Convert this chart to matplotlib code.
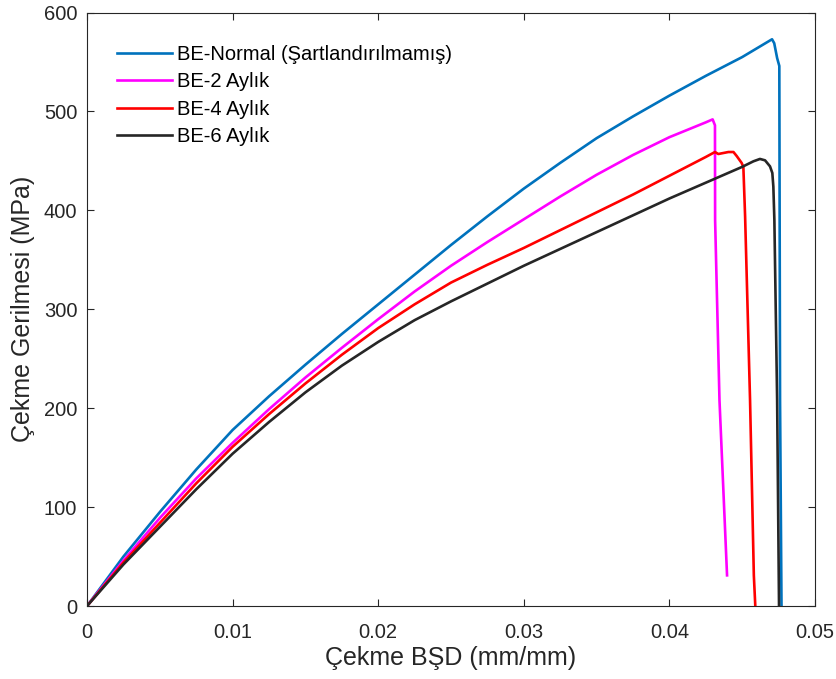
import numpy as np
import matplotlib
matplotlib.use("Agg")
import matplotlib.pyplot as plt

plt.rcParams['font.family'] = ['Liberation Sans', 'DejaVu Sans']

# strain (mm/mm) / stress (MPa)
normal_x = [0, 0.0025, 0.005, 0.0075, 0.01, 0.0125, 0.015, 0.0175, 0.02, 0.0225,
            0.025, 0.0275, 0.03, 0.0325, 0.035, 0.0375, 0.04, 0.0425, 0.045,
            0.04705, 0.0472, 0.0474, 0.04755, 0.0476, 0.0477]
normal_y = [0, 50, 95, 138, 178, 212, 244, 275, 305, 335,
            365, 394, 422, 448, 473, 495, 516, 536, 555,
            573, 569, 554, 546, 208, 0]

ay2_x = [0, 0.0025, 0.005, 0.0075, 0.01, 0.0125, 0.015, 0.0175, 0.02, 0.0225,
         0.025, 0.0275, 0.03, 0.0325, 0.035, 0.0375, 0.04, 0.0415, 0.0425,
         0.04297, 0.04313, 0.04314, 0.04344, 0.04396]
ay2_y = [0, 46, 89, 129, 165, 199, 231, 261, 290, 318,
         344, 368, 391, 414, 436, 456, 474, 483, 489,
         492, 486, 390, 208, 31]

ay4_x = [0, 0.0025, 0.005, 0.0075, 0.01, 0.0125, 0.015, 0.0175, 0.02, 0.0225,
         0.025, 0.0275, 0.03, 0.0325, 0.035, 0.0375, 0.04, 0.0425,
         0.04313, 0.04336, 0.04405, 0.0444, 0.04462, 0.04496, 0.04508,
         0.0452, 0.04554, 0.0458, 0.0459]
ay4_y = [0, 44, 84, 124, 161, 194, 225, 254, 281, 305,
         327, 345, 362, 380, 398, 416, 435, 454,
         459, 457, 459, 459, 455, 448, 444,
         394, 208, 31, 0]

ay6_x = [0, 0.0025, 0.005, 0.0075, 0.01, 0.0125, 0.015, 0.0175, 0.02, 0.0225,
         0.025, 0.0275, 0.03, 0.0325, 0.035, 0.0375, 0.04, 0.0425, 0.045,
         0.04577, 0.04622, 0.04657, 0.04691, 0.04707, 0.04714, 0.04721, 0.0474, 0.04753]
ay6_y = [0, 42, 80, 118, 154, 186, 216, 243, 267, 289,
         308, 326, 344, 361, 378, 395, 412, 428, 444,
         449.6, 452, 450.6, 444.5, 437.8, 424, 390.6, 208, 0]

labels = ['BE-Normal (Şartlandırılmamış)', 'BE-2 Aylık', 'BE-4 Aylık', 'BE-6 Aylık']
colors = ['#0072BD', '#FF00FF', '#FF0000', '#262626']
xticks = [0, 0.01, 0.02, 0.03, 0.04, 0.05]
xticklabels = ['0', '0.01', '0.02', '0.03', '0.04', '0.05']
yticks = [0, 100, 200, 300, 400, 500, 600]

fig = plt.figure(figsize=(8.37, 6.79), dpi=100)
ax = fig.add_axes([0.104, 0.1075, 0.8697, 0.874])

series = [(normal_x, normal_y), (ay2_x, ay2_y), (ay4_x, ay4_y), (ay6_x, ay6_y)]
for (x, y), lab, c in zip(series, labels, colors):
    ax.plot(x, y, color=c, lw=1.9, label=lab)

ax.set_xlim(0, 0.05)
ax.set_ylim(0, 600)
ax.set_xticks(xticks)
ax.set_xticklabels(xticklabels)
ax.set_yticks(yticks)
ax.tick_params(direction='in', top=True, right=True, labelsize=14.5,
               colors='#262626', length=5, width=0.8)
ax.tick_params(axis='x', pad=12)
ax.tick_params(axis='y', pad=7)
for s in ax.spines.values():
    s.set_color('#262626')
    s.set_linewidth(0.8)

ax.set_xlabel('Çekme BŞD (mm/mm)', fontsize=18, color='#262626', labelpad=3)
ax.set_ylabel('Çekme Gerilmesi (MPa)', fontsize=18, color='#262626', labelpad=6)

ax.legend(loc='upper left', bbox_to_anchor=(0.016, 0.976), frameon=False,
          fontsize=14.5, handlelength=2.75, labelspacing=0.42, handletextpad=0.25)

fig.savefig('out.png', dpi=100)
